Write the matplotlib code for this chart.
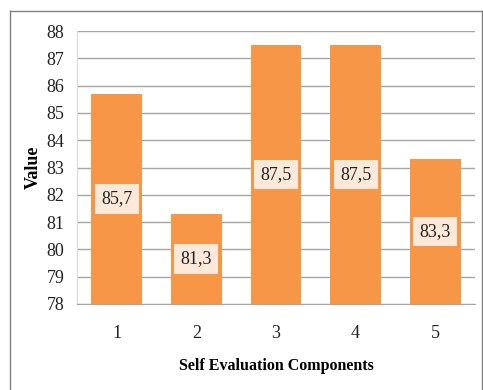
import matplotlib
matplotlib.use("Agg")
import matplotlib.pyplot as plt
from matplotlib.lines import Line2D

categories = ["1", "2", "3", "4", "5"]
values = [85.7, 81.3, 87.5, 87.5, 83.3]
labels = ["85,7", "81,3", "87,5", "87,5", "83,3"]
yticks = [78, 79, 80, 81, 82, 83, 84, 85, 86, 87, 88]

W, H = 483, 390
fig = plt.figure(figsize=(W / 100, H / 100), dpi=100)
plt.rcParams['font.family'] = ['Liberation Serif', 'DejaVu Serif']

ax = fig.add_axes([77 / W, 1 - 304 / H, (475 - 77) / W, (304 - 31) / H])
x = list(range(len(categories)))
ax.bar(x, [v - 78 for v in values], bottom=78, width=0.64, color="#F79646", zorder=3)
ax.set_xlim(-0.5, len(categories) - 0.5)
ax.set_ylim(78, 88)
ax.set_yticks(yticks)
ax.set_xticks(x)
ax.set_xticklabels(categories)
ax.tick_params(axis='both', length=0, labelsize=13, colors="#222222")
ax.tick_params(axis='x', pad=15)
ax.tick_params(axis='y', pad=9)
ax.yaxis.grid(True, color="#A6A6A6", linewidth=1.0, zorder=0)
for s in ["top", "right"]:
    ax.spines[s].set_visible(False)
ax.spines["left"].set_color("#D9D9D9")
ax.spines["bottom"].set_color("#A6A6A6")

for xi, v, lab in zip(x, values, labels):
    ax.text(xi, (78 + v) / 2, lab, ha="center", va="center", fontsize=13, color="#222222",
            zorder=4, bbox=dict(boxstyle="square,pad=0.35", facecolor="#FDE9D9", edgecolor="none"))

ax.set_xlabel("Self Evaluation Components", fontsize=11.5, fontweight="bold")
ax.set_ylabel("Value", fontsize=13, fontweight="bold")
ax.xaxis.set_label_coords(0.5, -(366 - 304) / (304 - 31), transform=ax.transAxes)
ax.yaxis.set_label_coords(-(77 - 33) / (475 - 77), 0.5, transform=ax.transAxes)
ax.xaxis.label.set_va("center")
ax.yaxis.label.set_va("center")

# outer frame
c = "#808080"
fig.add_artist(Line2D([9.5 / W, 9.5 / W], [0, 1 - 11 / H], color=c, lw=1, transform=fig.transFigure))
fig.add_artist(Line2D([9.5 / W, 481.5 / W], [1 - 11 / H, 1 - 11 / H], color=c, lw=1, transform=fig.transFigure))
fig.add_artist(Line2D([481.5 / W, 481.5 / W], [0, 1 - 11 / H], color=c, lw=1, transform=fig.transFigure))

fig.savefig("out.png", dpi=100)
